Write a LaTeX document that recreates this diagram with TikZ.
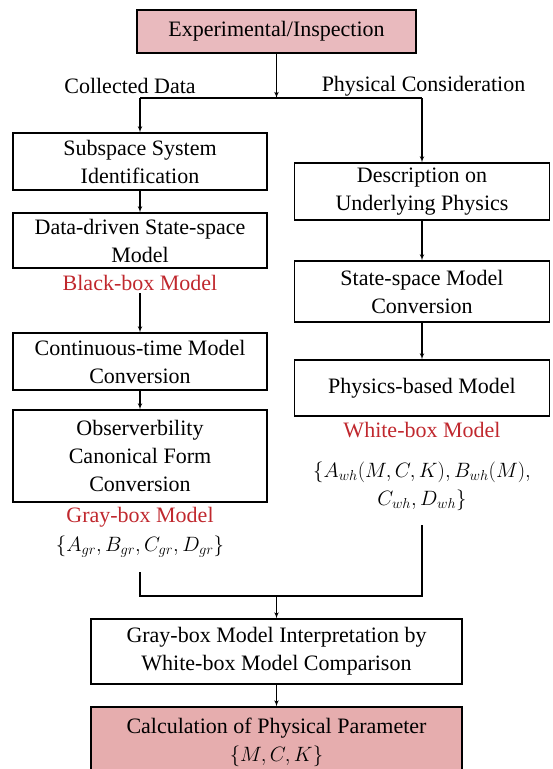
\documentclass[tikz,border=0pt]{standalone}
\usepackage{fontspec}
\setmainfont{Liberation Serif}
\usepackage{amsmath}
\usepackage{tikz}
\usetikzlibrary{shapes,arrows,positioning,patterns}

\definecolor{inpink}{RGB}{233,186,190}
\definecolor{outpink}{RGB}{230,173,174}
\definecolor{modelred}{RGB}{192,40,46}

\begin{document}
\begin{tikzpicture}[x=1pt,y=-1pt,auto,>=latex',
    font=\fontsize{22}{28}\selectfont,
    block/.style={rectangle,draw=black,line width=1.1pt,align=center,
        inner sep=0pt,minimum width=254pt,minimum height=57pt},
    wideblock/.style={block,minimum width=371pt},
    modeltag/.style={text=modelred,inner sep=2pt},
    params/.style={align=center,inner sep=2pt},
    every path/.style={line width=1.1pt}]
    \useasboundingbox (0,0) rectangle (553,769);
    \xdef\L{140}
    \xdef\R{422}
    \xdef\M{276.5}

    % source of both branches
    \node (exp) [block,fill=inpink,minimum width=279pt,minimum height=43pt] at (\M,31.5) {Experimental/Inspection};
    \node (collected) at (130,86) {Collected Data};
    \node (physical) at (423.5,86) {Physical Consideration};

    % data-driven branch
    \node (subspace) [block] at (\L,161.5) {Subspace System\\Identification};
    \node (ddmodel) [block,minimum height=55pt] at (\L,240.5) {Data-driven State-space\\Model};
    \node (blackbox) [modeltag] at (\L,283) {Black-box Model};
    \node (ctmodel) [block] at (\L,361.5) {Continuous-time Model\\Conversion};
    \node (ocform) [block,minimum height=92pt] at (\L,456) {Observerbility\\Canonical Form\\Conversion};
    \node (graybox) [modeltag] at (\L,517) {Gray-box Model};
    \node (graymat) [params] at (\L,547) {$\{A_{gr},B_{gr},C_{gr},D_{gr}\}$};

    % physics branch
    \node (desc) [block,minimum width=255pt] at (\R,191.5) {Description on\\Underlying Physics};
    \node (ssconv) [block,minimum width=255pt,minimum height=61pt] at (\R,291.5) {State-space Model\\Conversion};
    \node (pbmodel) [block,minimum width=255pt,minimum height=56pt] at (\R,388) {Physics-based Model};
    \node (whitebox) [modeltag] at (\R,430) {White-box Model};
    \node (whitemat) [params] at (\R,486) {$\{A_{wh}(M,C,K),B_{wh}(M),$\\$C_{wh},D_{wh}\}$};

    % merge (last box runs off the bottom edge)
    \node (interp) [wideblock,minimum height=65pt] at (\M,651.5) {Gray-box Model Interpretation by\\White-box Model Comparison};
    \node (calc) [wideblock,fill=outpink,minimum height=70pt] at (\M,742) {Calculation of Physical Parameter\\$\{M,C,K\}$};

    \coordinate (split) at (\M,98);
    \coordinate (splitL) at (\L,98);
    \coordinate (splitR) at (\R,98);
    \coordinate (join) at (\M,596);
    \coordinate (joinL) at (\L,596);
    \coordinate (joinR) at (\R,596);

    \draw[->] (exp) -- (split);
    \draw (splitL) -- (splitR);
    \draw[->] (splitL) -- (subspace);
    \draw[->] (splitR) -- (desc);

    \draw[->] (subspace) -- (ddmodel);
    \draw[->] (blackbox) -- (ctmodel);
    \draw[->] (ctmodel) -- (ocform);

    \draw[->] (desc) -- (ssconv);
    \draw[->] (ssconv) -- (pbmodel);

    \draw ([yshift=-12pt]graymat.south) -- (joinL) -- (joinR) -- ([yshift=-12pt]whitemat.south);
    \draw[->] (join) -- (interp);
    \draw[->] (interp) -- (calc);
\end{tikzpicture}
\end{document}
